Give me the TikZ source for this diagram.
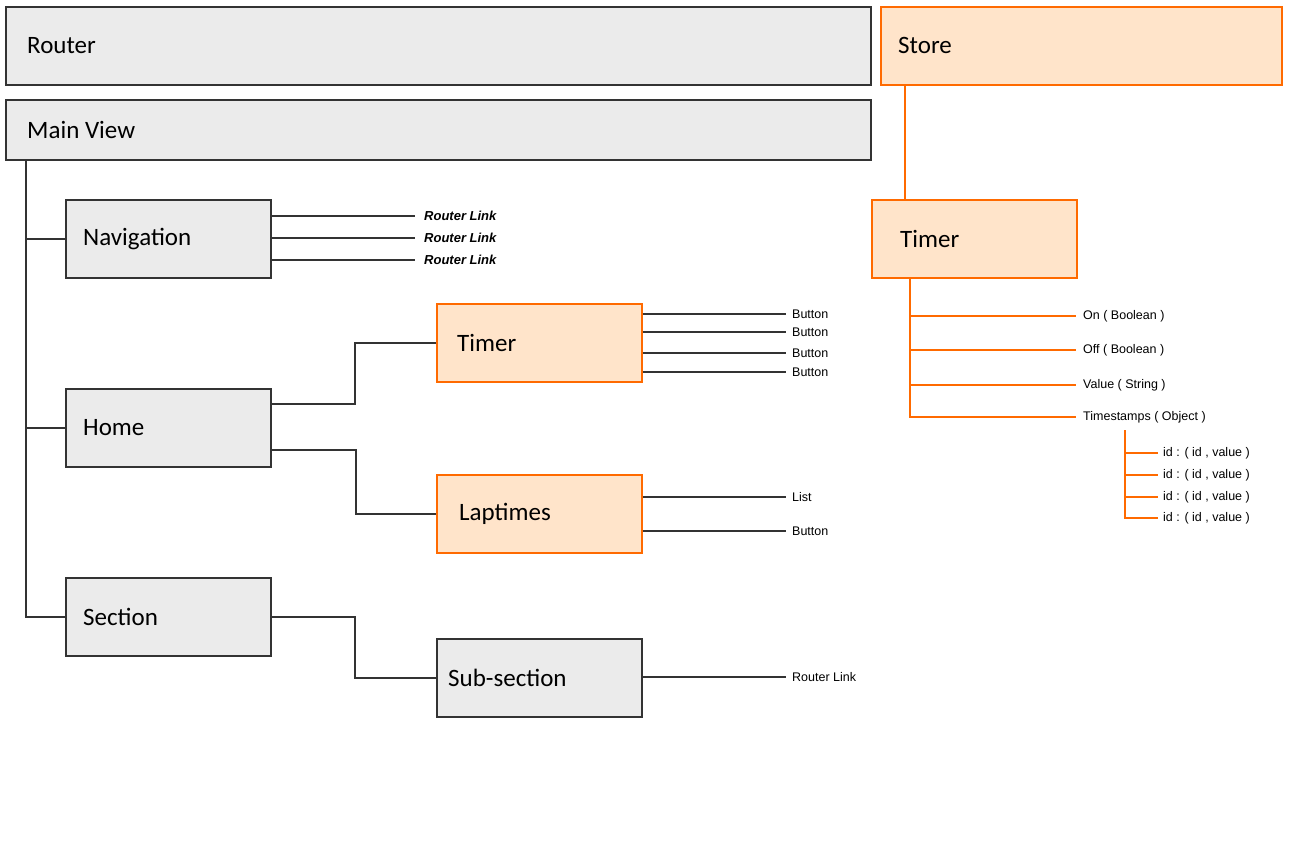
\documentclass[tikz,border=0pt]{standalone}
\usepackage{fontspec}
\setmainfont{Carlito}
\newfontfamily\arialfont{Liberation Sans}
\usetikzlibrary{positioning}
\definecolor{boxgray}{HTML}{EBEBEB}
\definecolor{linegray}{HTML}{333333}
\definecolor{storeorange}{HTML}{FF6A00}
\definecolor{storefill}{HTML}{FFE4CA}
\tikzset{
  graybox/.style={draw=linegray, fill=boxgray, line width=1.8pt, anchor=north west, inner sep=0pt, minimum width=205pt, minimum height=78pt},
  orangebox/.style={graybox, draw=storeorange, fill=storefill},
  boxlabel/.style={font=\fontsize{25}{30}\selectfont, inner sep=0pt},
  leaf/.style={font=\arialfont\fontsize{12.5}{15}\selectfont, anchor=west, inner xsep=6pt, inner ysep=1pt},
  linkleaf/.style={leaf, font=\arialfont\bfseries\itshape\fontsize{13}{15}\selectfont, inner xsep=9pt},
  wire/.style={draw=linegray, line width=2pt},
  orangewire/.style={draw=storeorange, line width=2pt}
}
\begin{document}
\begin{tikzpicture}[x=1pt, y=-1pt]
    \useasboundingbox (0,0) rectangle (1291,857);
    % top bars
    \node[graybox, minimum width=865pt] (router) at (5,6) {};
    \node[boxlabel, right=22pt of router.west] (router-t) {Router};
    \node[orangebox, minimum width=401pt] (store) at (880,6) {};
    \node[boxlabel, right=18pt of store.west] (store-t) {Store};
    \node[graybox, minimum width=865pt, minimum height=60pt] (mainview) at (5,99) {};
    \node[boxlabel, right=22pt of mainview.west] (mainview-t) {Main View};

    % view tree
    \node[graybox] (nav) at (65,199) {};     \node[boxlabel, right=18pt of nav.west] (nav-t) {Navigation};
    \node[graybox] (home) at (65,388) {};    \node[boxlabel, right=18pt of home.west] (home-t) {Home};
    \node[graybox] (section) at (65,577) {}; \node[boxlabel, right=18pt of section.west] (section-t) {Section};
    \node[orangebox] (vtimer) at (436,303) {};   \node[boxlabel, right=21pt of vtimer.west] (vtimer-t) {Timer};
    \node[orangebox] (laptimes) at (436,474) {}; \node[boxlabel, right=23pt of laptimes.west] (laptimes-t) {Laptimes};
    \node[graybox] (subsec) at (436,638) {};     \node[boxlabel, right=12pt of subsec.west] (subsec-t) {Sub-section};

    \coordinate (trunk) at ([xshift=21pt]mainview.south west);
    \draw[wire] (trunk) |- (nav.west);
    \draw[wire] (trunk) |- (home.west);
    \draw[wire] (trunk) |- (section.west);
    \draw[wire] ([yshift=24pt]home.east) -- ++(83,0) |- (vtimer.west);
    \draw[wire] ([yshift=-22pt]home.east) -- ++(84,0) |- (laptimes.west);
    \draw[wire] (section.east) -- ++(83,0) |- (subsec.west);

    % leaves of the views
    \node[linkleaf] (link1) at (415,216) {Router Link}; \draw[wire] (nav.east |- link1.west) -- (link1.west);
    \node[linkleaf] (link2) at (415,238) {Router Link}; \draw[wire] (nav.east |- link2.west) -- (link2.west);
    \node[linkleaf] (link3) at (415,260) {Router Link}; \draw[wire] (nav.east |- link3.west) -- (link3.west);
    \node[leaf] (btn1) at (786,314) {Button}; \draw[wire] (vtimer.east |- btn1.west) -- (btn1.west);
    \node[leaf] (btn2) at (786,332) {Button}; \draw[wire] (vtimer.east |- btn2.west) -- (btn2.west);
    \node[leaf] (btn3) at (786,353) {Button}; \draw[wire] (vtimer.east |- btn3.west) -- (btn3.west);
    \node[leaf] (btn4) at (786,372) {Button}; \draw[wire] (vtimer.east |- btn4.west) -- (btn4.west);
    \node[leaf] (list) at (786,497) {List};    \draw[wire] (laptimes.east |- list.west) -- (list.west);
    \node[leaf] (lapbtn) at (786,531) {Button}; \draw[wire] (laptimes.east |- lapbtn.west) -- (lapbtn.west);
    \node[leaf] (sublink) at (786,677) {Router Link};
    \draw[wire] (subsec.east |- sublink.west) -- (sublink.west);

    % store tree
    \node[orangebox] (stimer) at (871,199) {};
    \node[boxlabel, right=29pt of stimer.west] (stimer-t) {Timer};
    \coordinate (storedrop) at ([xshift=25pt]store.south west);
    \draw[orangewire] (storedrop) -- (storedrop |- stimer.north);
    \node[leaf, inner xsep=7pt] (on) at (1076,316) {On ( Boolean )};
    \node[leaf, inner xsep=7pt] (off) at (1076,350) {Off ( Boolean )};
    \node[leaf, inner xsep=7pt] (value) at (1076,385) {Value ( String )};
    \node[leaf, inner xsep=7pt] (ts) at (1076,417) {Timestamps ( Object )};
    \coordinate (stimerdrop) at ([xshift=39pt]stimer.south west);
    \draw[orangewire] (stimerdrop) |- (on.west);
    \draw[orangewire] (stimerdrop) |- (off.west);
    \draw[orangewire] (stimerdrop) |- (value.west);
    \draw[orangewire] (stimerdrop) |- (ts.west);
    \node[leaf, inner xsep=5pt] (id1) at (1158,453) {id : ( id , value )};
    \node[leaf, inner xsep=5pt] (id2) at (1158,475) {id : ( id , value )};
    \node[leaf, inner xsep=5pt] (id3) at (1158,497) {id : ( id , value )};
    \node[leaf, inner xsep=5pt] (id4) at (1158,518) {id : ( id , value )};
    \coordinate (tsdrop) at ([xshift=49pt, yshift=-6pt]ts.south west);
    \draw[orangewire] (tsdrop) |- (id1.west);
    \draw[orangewire] (tsdrop) |- (id2.west);
    \draw[orangewire] (tsdrop) |- (id3.west);
    \draw[orangewire] (tsdrop) |- (id4.west);
\end{tikzpicture}
\end{document}
